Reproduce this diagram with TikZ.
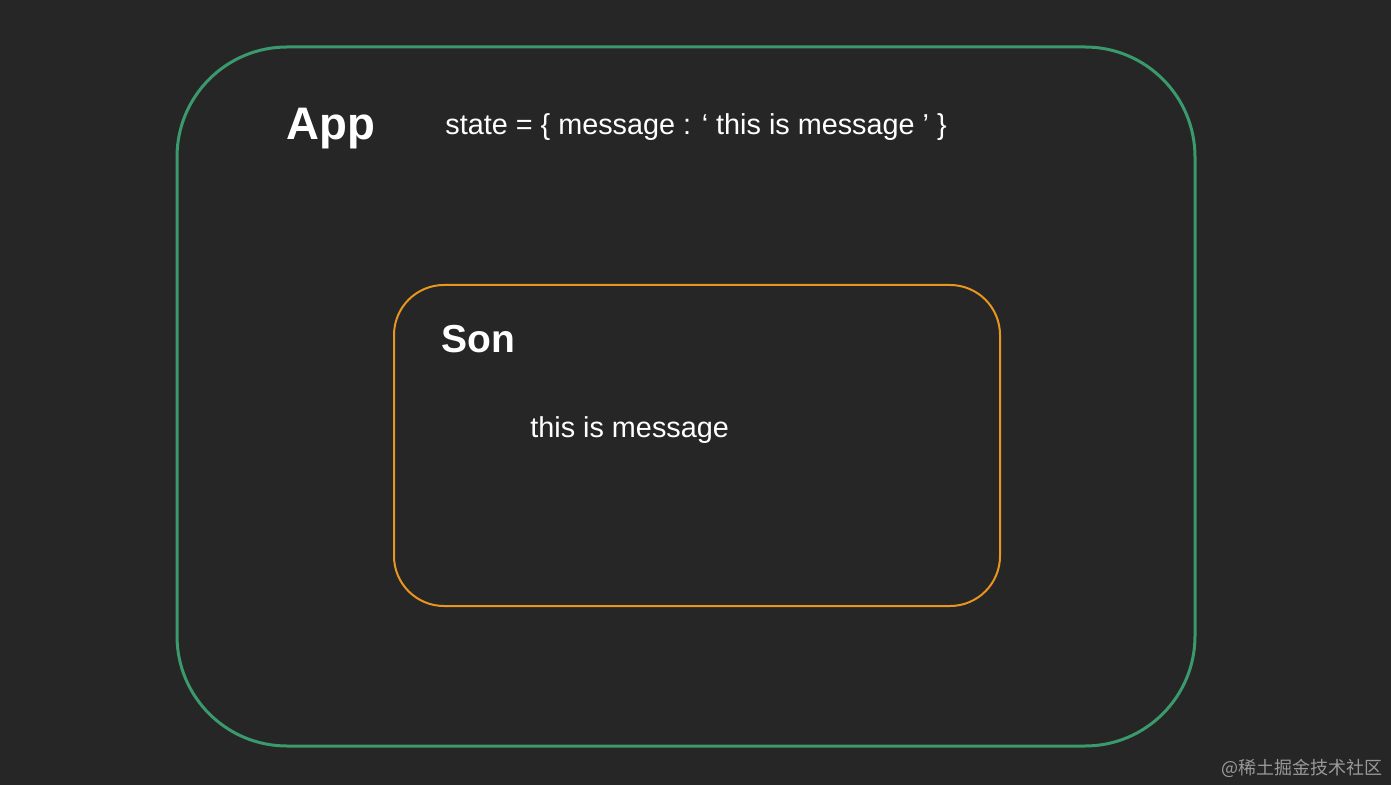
\documentclass[tikz,border=0pt]{standalone}
\usepackage{fontspec}
\setmainfont{Liberation Sans}
\newfontfamily\cjk{Noto Sans CJK SC}
\definecolor{bgdark}{HTML}{262626}
\definecolor{appgreen}{HTML}{3A9A6E}
\definecolor{sonorange}{HTML}{E8961E}
\tikzset{
  title/.style={text=white,font=\bfseries\fontsize{22.8}{27}\selectfont,inner sep=0pt,anchor=base west},
  label/.style={text=white,font=\fontsize{14.4}{17}\selectfont,inner sep=0pt,anchor=base west},
}
\begin{document}
\begin{tikzpicture}[x=0.5pt,y=-0.5pt]
	\fill[bgdark] (0,0) rectangle (1391,785);
	\useasboundingbox (0,0) rectangle (1391,785);
	\draw[appgreen,line width=1.5pt,rounded corners=55pt] (177,47) rectangle (1195,746);
	\draw[sonorange,line width=1pt,rounded corners=25pt] (394,285) rectangle (1000,606);
	\node[title] (app) at (286,140) {App};
	\node[label] (state) at (445,135) {state = \{ message : ‘ this is message ’ \}};
	\node[title,font=\bfseries\fontsize{19.5}{23}\selectfont] (son) at (441,353) {Son};
	\node[label] (msg) at (530,438) {this is message};
	\node[text=gray!80,font=\cjk\fontsize{9}{11}\selectfont,inner sep=0pt,anchor=base east] (mark) at (1383,774) {@稀土掘金技术社区};
\end{tikzpicture}
\end{document}
